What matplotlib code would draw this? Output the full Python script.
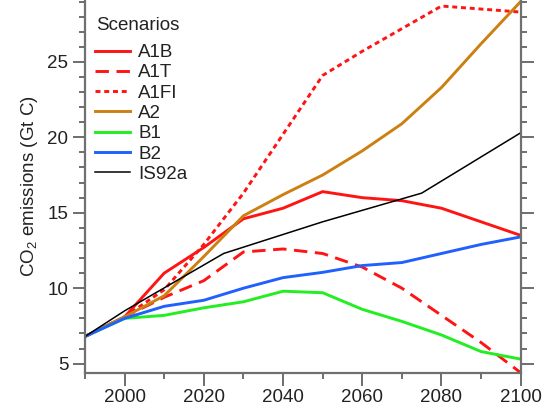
import matplotlib
matplotlib.use("Agg")
import matplotlib.pyplot as plt
from matplotlib.ticker import MultipleLocator

plt.rcParams['font.family'] = ['Liberation Sans', 'DejaVu Sans']
plt.rcParams['mathtext.fontset'] = 'custom'
plt.rcParams['mathtext.rm'] = 'Liberation Sans'
plt.rcParams['mathtext.default'] = 'regular'

# values (Gt C)
years = [1990, 2000, 2010, 2020, 2030, 2040, 2050, 2060, 2070, 2080, 2090, 2100]
a1b = [6.8, 8.1, 11.0, 12.7, 14.6, 15.3, 16.4, 16.0, 15.8, 15.3, 14.4, 13.5]
a1t = [6.8, 8.1, 9.4, 10.5, 12.4, 12.6, 12.3, 11.4, 10.0, 8.2, 6.4, 4.4]
a1fi = [6.8, 8.1, 9.9, 12.9, 16.3, 20.2, 24.1, 25.7, 27.2, 28.7, 28.5, 28.3]
a2 = [6.8, 8.1, 9.5, 12.1, 14.8, 16.2, 17.5, 19.1, 20.9, 23.3, 26.2, 29.0]
b1 = [6.8, 8.0, 8.2, 8.7, 9.1, 9.8, 9.7, 8.6, 7.8, 6.9, 5.8, 5.3]
b2 = [6.8, 8.0, 8.8, 9.2, 10.0, 10.7, 11.05, 11.5, 11.7, 12.3, 12.9, 13.4]

is92a_years = [1990, 2000, 2025, 2050, 2075, 2100]
is92a = [6.8, 8.5, 12.3, 14.4, 16.3, 20.3]

red = '#ff1414'
orange = '#cc8012'
green = '#22ee22'
blue = '#2060ff'
txt = '#222222'
fs = 13.5

fig = plt.figure(figsize=(5.47, 4.12), dpi=100)
ax = fig.add_axes([0.1554, 0.0954, 0.7965, 0.9046])

lw = 2.1
ax.plot(years, a1b, color=red, lw=lw, label='A1B')
ax.plot(years, a1t, color=red, lw=lw, ls=(0, (4.6, 2.6)), label='A1T')
ax.plot(years, a1fi, color=red, lw=lw, ls=(0, (1.7, 1.3)), label='A1FI')
ax.plot(years, a2, color=orange, lw=lw, label='A2')
ax.plot(years, b1, color=green, lw=lw, label='B1')
ax.plot(years, b2, color=blue, lw=lw, label='B2')
ax.plot(is92a_years, is92a, color='black', lw=1.1, label='IS92a')

ax.set_xlim(1990, 2100)
ax.set_ylim(4.4, 29.1)
ax.xaxis.set_major_locator(MultipleLocator(20))
ax.xaxis.set_minor_locator(MultipleLocator(10))
ax.yaxis.set_major_locator(MultipleLocator(5))
ax.yaxis.set_minor_locator(MultipleLocator(1))

spine_col = '#707070'
ax.spines['top'].set_visible(False)
for s in ['left', 'right', 'bottom']:
    ax.spines[s].set_color(spine_col)
    ax.spines[s].set_linewidth(1.6)

ax.tick_params(which='both', direction='out', color='#555555', width=1.2,
               labelsize=fs, right=True, labelcolor=txt)
ax.tick_params(which='major', length=9, pad=3)
ax.tick_params(which='minor', length=4)

ax.set_ylabel('CO$_2$ emissions (Gt C)', fontsize=fs, color=txt, labelpad=5)

# legend title drawn on its own so the gap below it matches
ax.text(0.025, 0.931, 'Scenarios', transform=ax.transAxes, fontsize=fs,
        color=txt, ha='left', va='center')
leg = ax.legend(loc='upper left', bbox_to_anchor=(0.023, 0.882), frameon=False,
                fontsize=fs, handlelength=1.85, handletextpad=0.45,
                labelspacing=0.17, borderaxespad=0, borderpad=0)
for t in leg.get_texts():
    t.set_color(txt)

fig.savefig('out.png', dpi=100)
